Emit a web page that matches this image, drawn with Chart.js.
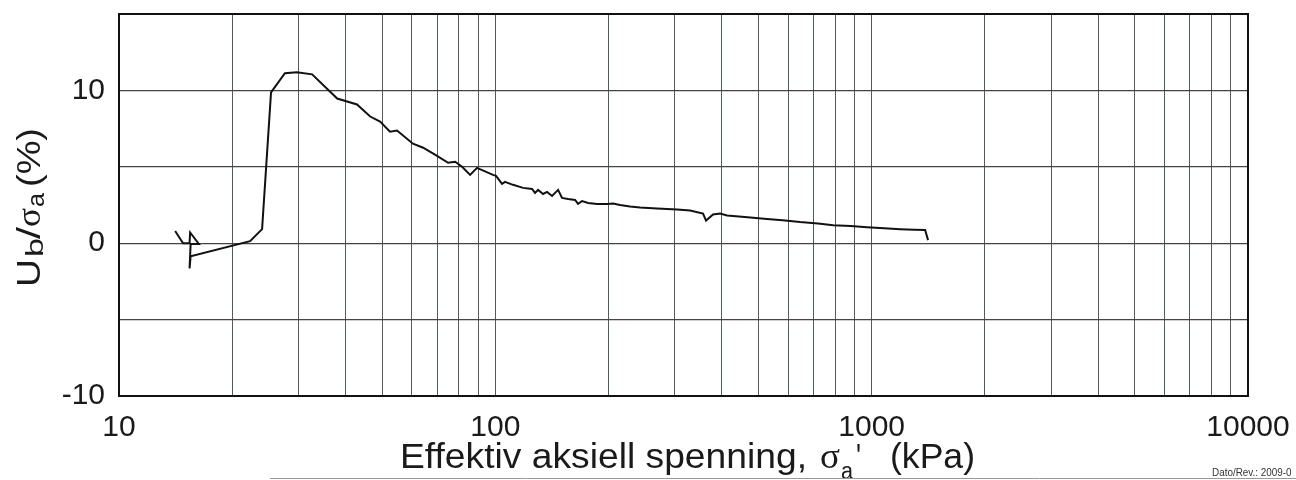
<!DOCTYPE html>
<html><head><meta charset="utf-8">
<script src="https://cdn.jsdelivr.net/npm/chart.js@4.4.1/dist/chart.umd.min.js"></script>
<style>html,body{margin:0;padding:0;background:#fff}#wrap{width:1296px;height:480px;position:relative}</style>
</head><body><div id="wrap"><canvas id="c" width="1296" height="480"></canvas></div>
<script>
// Effective axial stress (kPa)
const stressKPa = [14.1,14.8,15.4,15.45,16.3,15.5,15.4,15.5,22.3,24.0,25.35,27.6,29.7,32.6,38.0,42.9,46.5,49.4,52.5,54.8,60.4,64.3,70.0,74.9,78.2,81.6,85.7,89.4,98.6,100.4,104.2,106.1,111.4,118.5,125.2,127.5,129.9,133.9,137.2,141.5,146.8,150.4,156.1,162.9,165.9,170.0,176.4,186.3,198.1,205.5,214.5,228.0,242.4,268.9,304.1,329.2,356.4,363.0,378.9,395.5,412.9,460,527,580,645,720,790,880,972,1080,1190,1300,1387,1412];
// Ub / sigma_a (%)
const ratioPct = [0.8,0.0,0.0,0.7,-0.05,-0.05,-1.65,-0.85,0.13,0.92,9.87,11.12,11.18,11.05,9.47,9.08,8.29,7.96,7.30,7.37,6.51,6.25,5.72,5.26,5.33,5.0,4.47,4.93,4.47,4.41,3.88,4.01,3.82,3.62,3.55,3.29,3.49,3.22,3.36,3.09,3.49,2.96,2.89,2.83,2.57,2.76,2.63,2.57,2.57,2.6,2.5,2.4,2.34,2.27,2.2,2.14,1.94,1.48,1.88,1.94,1.81,1.72,1.58,1.5,1.38,1.29,1.18,1.12,1.05,0.98,0.92,0.88,0.86,0.2];
const xTickValues = [10,20,30,40,50,60,70,80,90,100,200,300,400,500,600,700,800,900,1000,2000,3000,4000,5000,6000,7000,8000,9000,10000];
const xTickLabels = ['10','100','1000','10000'];
const yTickLabels = ['-10','0','10'];

const FONT = "'Liberation Sans', Arial, sans-serif";
const SERIF = "'Liberation Serif', serif";

function fitText(ctx, text, x0, x1, y, font) {
  ctx.font = font;
  const w = ctx.measureText(text).width;
  ctx.save();
  ctx.translate(x0, y);
  ctx.scale((x1 - x0) / w, 1);
  ctx.fillText(text, 0, 0);
  ctx.restore();
}

const decor = {
  id: 'decor',
  afterDraw(chart) {
    const ctx = chart.ctx, a = chart.chartArea;
    ctx.save();
    ctx.strokeStyle = '#111'; ctx.lineWidth = 2;
    ctx.strokeRect(a.left, a.top, a.right - a.left, a.bottom - a.top);
    ctx.fillStyle = '#1a1a1a';
    ctx.textBaseline = 'alphabetic';
    // x title
    fitText(ctx, 'Effektiv aksiell spenning,', 400, 807, 468, '35px ' + FONT);
    fitText(ctx, '\u03C3', 820, 840, 468, '35px ' + SERIF);
    fitText(ctx, 'a', 841, 853, 479, '23px ' + FONT);
    fitText(ctx, "'", 856, 861, 468, '35px ' + FONT);
    fitText(ctx, '(kPa)', 890, 975, 468, '35px ' + FONT);
    // y title (rotated)
    ctx.save();
    ctx.translate(40, 287);
    ctx.rotate(-Math.PI / 2);
    fitText(ctx, 'U', 0, 28, 0, '33px ' + FONT);
    fitText(ctx, 'b', 30, 49, 3, '23px ' + FONT);
    fitText(ctx, '/', 48, 60, 0, '33px ' + FONT);
    fitText(ctx, '\u03C3', 60, 79, 0, '33px ' + SERIF);
    fitText(ctx, 'a', 80, 94, 4, '23px ' + FONT);
    fitText(ctx, '(%)', 100, 159, 0, '33px ' + FONT);
    ctx.restore();
    // footer
    ctx.strokeStyle = '#999'; ctx.lineWidth = 1;
    ctx.beginPath(); ctx.moveTo(270, 478.5); ctx.lineTo(1296, 478.5); ctx.stroke();
    ctx.save();
    ctx.translate(1212, 476);
    ctx.scale(0.9, 1);
    ctx.font = '11px ' + FONT;
    ctx.fillStyle = '#333';
    ctx.fillText('Dato/Rev.: 2009-0', 0, 0);
    ctx.restore();
    ctx.restore();
  }
};

new Chart(document.getElementById('c'), {
  type: 'scatter',
  data: {
    datasets: [{
      data: stressKPa.map((v, i) => ({x: v, y: ratioPct[i]})),
      showLine: true,
      borderColor: '#111',
      borderWidth: 2,
      pointRadius: 0,
      tension: 0,
      fill: false
    }]
  },
  options: {
    responsive: false,
    animation: false,
    devicePixelRatio: 1,
    layout: { padding: { top: 14, right: 48, left: 0, bottom: 0 } },
    plugins: { legend: { display: false }, tooltip: { enabled: false } },
    scales: {
      x: {
        type: 'logarithmic',
        min: 10, max: 10000,
        afterBuildTicks: s => { s.ticks = xTickValues.map(v => ({value: v})); },
        afterFit: s => { s.height = 84; s.paddingLeft = 0; s.paddingRight = 0; },
        ticks: {
          autoSkip: false, maxRotation: 0, minRotation: 0,
          padding: 14,
          color: '#1a1a1a',
          font: { family: FONT, size: 30 },
          callback: v => { const s = String(v); return xTickLabels.includes(s) ? s : ''; }
        },
        grid: { color: '#4f5c5c', lineWidth: 1, drawTicks: false },
        border: { display: true, color: '#111', width: 2 }
      },
      y: {
        min: -10, max: 15,
        afterFit: s => { s.width = 119; s.paddingTop = 0; s.paddingBottom = 0; },
        ticks: {
          stepSize: 5,
          padding: 14,
          color: '#1a1a1a',
          font: { family: FONT, size: 30 },
          callback: v => { const s = String(v); return yTickLabels.includes(s) ? s : ''; }
        },
        grid: { color: '#444', lineWidth: 1.2, drawTicks: false },
        border: { display: true, color: '#111', width: 2 }
      }
    }
  },
  plugins: [decor]
});
</script>
</body></html>
